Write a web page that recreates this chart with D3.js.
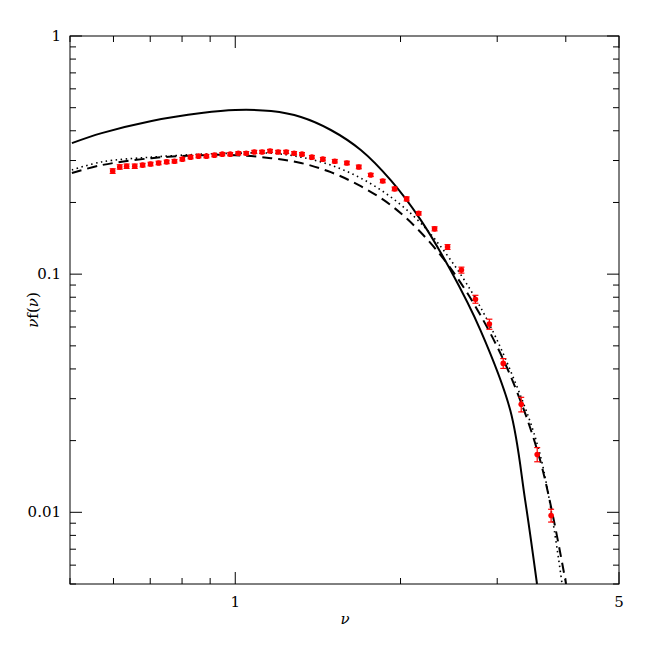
<!DOCTYPE html><html><head><script src="https://cdn.jsdelivr.net/npm/d3@7"></script>
<style>body{margin:0;background:#fff}</style></head><body><svg id="c" width="654" height="654"></svg><script>
const ptX=[0.598,0.616,0.634,0.656,0.678,0.701,0.725,0.750,0.775,0.801,0.829,0.857,0.886,0.916,0.947,0.979,1.013,1.047,1.083,1.119,1.157,1.197,1.238,1.280,1.323,1.379,1.444,1.518,1.597,1.679,1.765,1.856,1.951,2.052,2.158,2.307,2.436,2.582,2.738,2.903,3.077,3.318,3.548,3.761];
const ptY=[0.271,0.282,0.284,0.284,0.287,0.290,0.293,0.296,0.298,0.304,0.310,0.313,0.313,0.316,0.319,0.319,0.322,0.322,0.326,0.326,0.329,0.326,0.326,0.322,0.319,0.310,0.304,0.298,0.293,0.282,0.261,0.246,0.228,0.207,0.180,0.155,0.130,0.104,0.0785,0.0617,0.0422,0.0284,0.0175,0.0097];
const ptErr=[0.006,0.006,0.006,0.006,0.005,0.005,0.005,0.005,0.005,0.005,0.005,0.005,0.005,0.005,0.005,0.005,0.005,0.005,0.005,0.005,0.005,0.005,0.005,0.005,0.005,0.005,0.005,0.005,0.005,0.005,0.004,0.004,0.004,0.004,0.003,0.003,0.003,0.003,0.003,0.003,0.002,0.002,0.0012,0.0006];
const solidX=[0.504,0.571,0.704,0.868,1,1.162,1.317,1.493,1.693,1.919,2.176,2.466,2.796,3.169,3.374,3.545];
const solidY=[0.355,0.391,0.440,0.475,0.489,0.484,0.457,0.403,0.332,0.248,0.169,0.104,0.0582,0.0268,0.0112,0.005];
const dashX=[0.504,0.571,0.704,0.868,1,1.162,1.317,1.493,1.693,1.919,2.176,2.466,2.796,3.169,3.593,4.004];
const dashY=[0.266,0.287,0.307,0.316,0.316,0.307,0.293,0.268,0.234,0.195,0.150,0.106,0.0673,0.0376,0.0165,0.005];
const dotX=[0.504,0.571,0.704,0.868,1,1.162,1.317,1.493,1.693,1.919,2.176,2.466,2.796,3.169,3.593,3.938];
const dotY=[0.274,0.296,0.310,0.319,0.322,0.322,0.310,0.287,0.253,0.211,0.164,0.115,0.0727,0.0395,0.0174,0.005];
const xTickLabels=[1,5], yTickLabels=[1,0.1,0.01];
const L=70,R=619,T=36,B=584;
const svg=d3.select("#c");
const x=d3.scaleLog().domain([0.5,5]).range([L,R]);
const y=d3.scaleLog().domain([0.005,1]).range([B,T]);
svg.append("defs").append("clipPath").attr("id","cp").append("rect").attr("x",L).attr("y",T).attr("width",R-L).attr("height",B-T);
svg.append("rect").attr("x",L).attr("y",T).attr("width",R-L).attr("height",B-T).attr("fill","none").attr("stroke","#000");
const xt=[0.5,0.6,0.7,0.8,0.9,1,2,3,4,5], yt=[];
[0.001,0.01,0.1].forEach(d=>{for(let k=1;k<10;k++){const v=d*k;if(v>=0.005&&v<=1.0001)yt.push(v);}});yt.push(1);
const g=svg.append("g").attr("stroke","#000");
xt.forEach(v=>{const len=(v===1||v===5)?12:6;const px=x(v);
 g.append("line").attr("x1",px).attr("x2",px).attr("y1",B).attr("y2",B-len);
 g.append("line").attr("x1",px).attr("x2",px).attr("y1",T).attr("y2",T+len);});
yt.forEach(v=>{const maj=Math.abs(Math.log10(v)-Math.round(Math.log10(v)))<1e-6;const len=maj?12:6;const py=y(v);
 g.append("line").attr("x1",L).attr("x2",L+len).attr("y1",py).attr("y2",py);
 g.append("line").attr("x1",R).attr("x2",R-len).attr("y1",py).attr("y2",py);});
const ff="DejaVu Serif, serif";
xTickLabels.forEach(v=>svg.append("text").attr("x",x(v)).attr("y",607).attr("text-anchor","middle").attr("font-family",ff).attr("font-size",15).text(v));
yTickLabels.forEach(v=>svg.append("text").attr("x",61).attr("y",y(v)+5).attr("text-anchor","end").attr("font-family",ff).attr("font-size",15).text(v));
svg.append("text").attr("x",345).attr("y",624).attr("text-anchor","middle").attr("font-family",ff).attr("font-style","italic").attr("font-size",15).text("ν");
svg.append("text").attr("transform","translate(38,310) rotate(-90)").attr("text-anchor","middle").attr("font-family",ff).attr("font-size",15).html('<tspan font-style="italic">ν</tspan>f(<tspan font-style="italic">ν</tspan>)');
const line=d3.line().x(d=>x(d[0])).y(d=>y(d[1])).curve(d3.curveCatmullRom);
const cg=svg.append("g").attr("clip-path","url(#cp)").attr("fill","none").attr("stroke","#000").attr("stroke-width",2);
cg.append("path").attr("d",line(d3.zip(solidX,solidY)));
cg.append("path").attr("d",line(d3.zip(dashX,dashY))).attr("stroke-dasharray","10,6");
cg.append("path").attr("d",line(d3.zip(dotX,dotY))).attr("stroke-dasharray","1.5,3.5").attr("stroke-width",1.6);
const pg=svg.append("g").attr("fill","red").attr("stroke","red");
ptX.forEach((v,i)=>{const px=x(v);
 pg.append("line").attr("x1",px).attr("x2",px).attr("y1",y(ptY[i]+ptErr[i])).attr("y2",y(ptY[i]-ptErr[i])).attr("stroke-width",1.2);
 [ptY[i]+ptErr[i],ptY[i]-ptErr[i]].forEach(e=>pg.append("line").attr("x1",px-3).attr("x2",px+3).attr("y1",y(e)).attr("y2",y(e)).attr("stroke-width",1.2));
 pg.append("circle").attr("cx",px).attr("cy",y(ptY[i])).attr("r",2.8).attr("stroke","none");});
</script></body></html>
